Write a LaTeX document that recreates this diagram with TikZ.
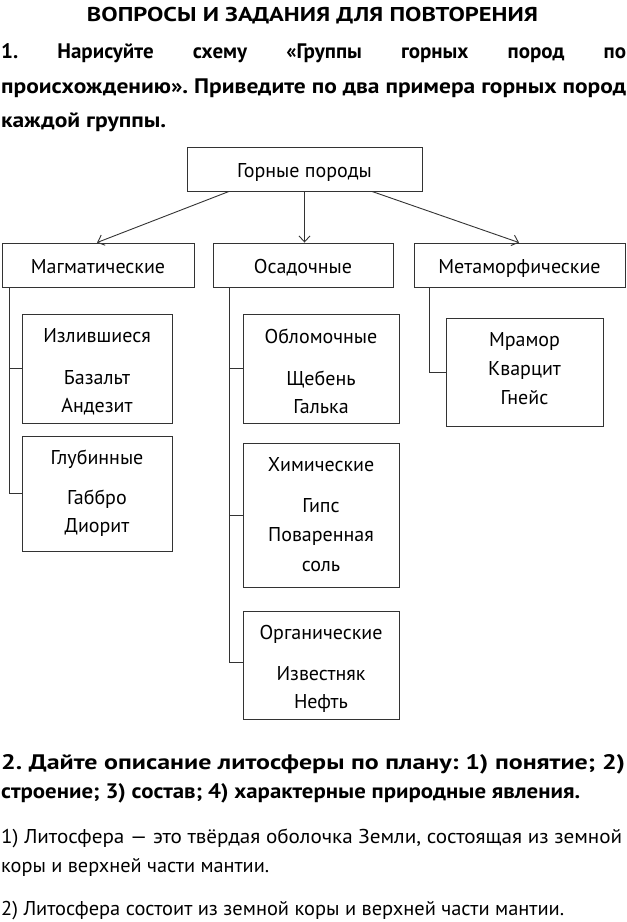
\documentclass[tikz,border=0pt]{standalone}
\usepackage{fontspec}
\setmainfont{PT Sans}
\usepackage{graphicx}
\usetikzlibrary{arrows.meta}
\newcommand\fitto[2]{\resizebox{#1}{\height}{#2}}
\frenchspacing
\begin{document}
\begin{tikzpicture}[x=1pt,y=-1pt,
  box/.style={draw=black!80,line width=0.9pt,inner sep=0pt},
  lbl/.style={inner sep=0pt,anchor=base,font=\fontsize{20pt}{24pt}\selectfont},
  head/.style={inner sep=0pt,anchor=base west,font=\bfseries\fontsize{21pt}{25pt}\selectfont},
  plain/.style={inner sep=0pt,anchor=base west,font=\fontsize{20pt}{24pt}\selectfont},
  conn/.style={draw=black!80,line width=0.9pt},
  arr/.style={conn,-{Straight Barb[length=6pt,width=11pt]}}]
\useasboundingbox[fill=white] (0,0) rectangle (627,922);

% headings
\node[inner sep=0pt,anchor=base,font=\bfseries\fontsize{20pt}{24pt}\selectfont] (title) at (312.5,21)
  {\fitto{451pt}{ВОПРОСЫ И ЗАДАНИЯ ДЛЯ ПОВТОРЕНИЯ}};
\node[head] (q1a) at (1,58) {\makebox[625pt][s]{1. Нарисуйте схему «Группы горных пород по}};
\node[head] (q1b) at (1,93) {\fitto{625pt}{происхождению». Приведите по два примера горных пород}};
\node[head] (q1c) at (1,127) {\fitto{165pt}{каждой группы.}};

% boxes
\node[box,minimum width=235pt,minimum height=44pt] (top) at (304.5,169) {};
\node[box,minimum width=192pt,minimum height=44pt] (magm) at (98,265) {};
\node[box,minimum width=180pt,minimum height=44pt] (osad) at (303,265) {};
\node[box,minimum width=211pt,minimum height=44pt] (meta) at (519.5,265) {};
\node[box,minimum width=150pt,minimum height=109pt] (izl) at (97,368.5) {};
\node[box,minimum width=150pt,minimum height=115pt] (glub) at (97,493.5) {};
\node[box,minimum width=156pt,minimum height=109pt] (oblom) at (321,368.5) {};
\node[box,minimum width=156pt,minimum height=144pt] (chem) at (321,515) {};
\node[box,minimum width=156pt,minimum height=108pt] (org) at (321,665) {};
\node[box,minimum width=157pt,minimum height=108pt] (mram) at (524.5,372) {};

% labels
\node[lbl] (tTop) at (304.5,177) {Горные породы};
\node[lbl] (tMagm) at (98,273) {Магматические};
\node[lbl] (tOsad) at (303,273) {Осадочные};
\node[lbl] (tMeta) at (519.5,273) {Метаморфические};
\node[lbl] (t1) at (97,342) {Излившиеся};
\node[lbl] (t2) at (97,384) {Базальт};
\node[lbl] (t3) at (97,412) {Андезит};
\node[lbl] (t4) at (97,464) {Глубинные};
\node[lbl] (t5) at (97,504) {Габбро};
\node[lbl] (t6) at (97,532) {Диорит};
\node[lbl] (t7) at (321,343) {Обломочные};
\node[lbl] (t8) at (321,385) {Щебень};
\node[lbl] (t9) at (321,413) {Галька};
\node[lbl] (t10) at (321,471) {Химические};
\node[lbl] (t11) at (321,512) {Гипс};
\node[lbl] (t12) at (321,541) {Поваренная};
\node[lbl] (t13) at (321,571) {соль};
\node[lbl] (t14) at (321,639) {Органические};
\node[lbl] (t15) at (321,680) {Известняк};
\node[lbl] (t16) at (321,708) {Нефть};
\node[lbl] (t17) at (524.5,346) {Мрамор};
\node[lbl] (t18) at (524.5,375) {Кварцит};
\node[lbl] (t19) at (524.5,404) {Гнейс};

% arrows
\draw[arr] ([xshift=-75.5pt]top.south) -- ([xshift=-1pt]magm.north);
\draw[arr] (top.south) -- (top.south |- osad.north);
\draw[arr] ([xshift=67.5pt]top.south) -- ([xshift=-0.5pt]meta.north);

% tree connectors
\coordinate (mv) at (9.5,287);
\coordinate (ov) at (229,287);
\coordinate (tv) at (429.5,287);
\draw[conn] (mv) |- (izl.west);
\draw[conn] (mv) |- (glub.west);
\draw[conn] (ov) |- (oblom.west);
\draw[conn] (ov) |- (chem.west);
\draw[conn] (ov) |- ([yshift=3pt]org.west);
\draw[conn] (tv) |- (mram.west);

% question 2
\node[head] (q2a) at (1,769) {\fitto{624pt}{2. Дайте описание литосферы по плану: 1) понятие; 2)}};
\node[head] (q2b) at (1,798) {\fitto{579pt}{строение; 3) состав; 4) характерные природные явления.}};
\node[plain] (a1) at (1,843) {\fitto{621pt}{1) Литосфера — это твёрдая оболочка Земли, состоящая из земной}};
\node[plain] (a2) at (1,872) {\fitto{268pt}{коры и верхней части мантии.}};
\node[plain] (a3) at (1,915) {\fitto{563pt}{2) Литосфера состоит из земной коры и верхней части мантии.}};
\end{tikzpicture}
\end{document}
